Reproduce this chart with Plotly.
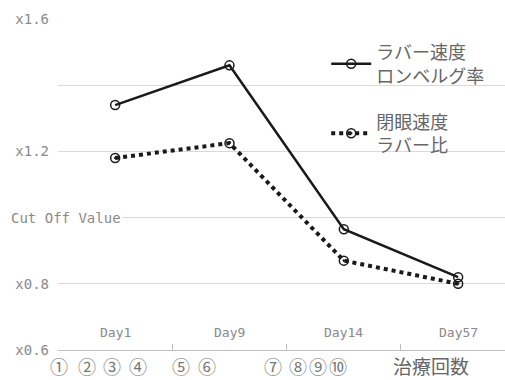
import plotly.graph_objects as go

days = ["Day1", "Day9", "Day14", "Day57"]
x_pos = [0, 1, 2, 3]
romberg = [1.34, 1.46, 0.965, 0.82]
closed_ratio = [1.18, 1.225, 0.87, 0.80]
series_names = ["ラバー速度<br>ロンベルグ率", "閉眼速度<br>ラバー比"]
y_tickvals = [1.6, 1.4, 1.2, 1.0, 0.8, 0.6]
y_ticktext = ["x1.6", "", "x1.2", "", "x0.8", "x0.6"]
cutoff_label = "Cut Off Value"
session_marks = ["①", "②", "③", "④", "⑤", "⑥", "⑦", "⑧", "⑨", "⑩"]
session_px = [59, 87, 112, 138, 181, 207, 273, 298, 318, 338]
axis_title = "治療回数"

FONT = "Noto Sans CJK JP, DejaVu Sans, sans-serif"
MONO = "DejaVu Sans Mono, Liberation Mono, monospace"
PL, PW = 58, 447

fig = go.Figure()
fig.add_trace(go.Scatter(
    x=x_pos, y=romberg, mode="lines+markers", name=series_names[0],
    line=dict(color="#1a1a1a", width=2.5),
    marker=dict(symbol="circle-open", size=9, color="#1a1a1a", line=dict(width=1.5)),
    legend="legend", showlegend=True,
))
fig.add_trace(go.Scatter(
    x=x_pos, y=closed_ratio, mode="lines+markers", name=series_names[1],
    line=dict(color="#1a1a1a", width=4, dash="dot"),
    marker=dict(symbol="circle-open-dot", size=9, color="#1a1a1a", line=dict(width=1.5)),
    legend="legend2", showlegend=True,
))

annotations = []
for xi, d in zip(x_pos, days):
    annotations.append(dict(x=xi, y=0.6, xref="x", yref="y", text=d, showarrow=False,
                            yanchor="bottom", yshift=8,
                            font=dict(family=MONO, size=13, color="#8a8a8a")))
annotations.append(dict(x=0, y=1.0, xref="paper", yref="y", text=cutoff_label, showarrow=False,
                        xanchor="left", xshift=-49, bgcolor="white",
                        font=dict(family=MONO, size=14, color="#8a8a8a")))
for txt, px in zip(session_marks, session_px):
    annotations.append(dict(x=(px - PL) / PW, y=0, xref="paper", yref="paper", text=txt,
                            showarrow=False, xanchor="center", yanchor="middle", yshift=-16,
                            borderpad=0,
                            font=dict(family=FONT, size=18, color="#777777")))
annotations.append(dict(x=(392 - PL) / PW, y=0, xref="paper", yref="paper", text=axis_title,
                        showarrow=False, xanchor="left", yanchor="middle", yshift=-15,
                        borderpad=0,
                        font=dict(family=FONT, size=19, color="#666666")))

fig.update_layout(
    width=505, height=380,
    margin=dict(l=PL, r=0, t=19, b=30),
    paper_bgcolor="white", plot_bgcolor="white",
    font=dict(family=FONT, color="#777777"),
    xaxis=dict(range=[-0.5, 3.41], tickvals=[-0.5, 0.5, 1.5, 2.5], ticks="inside", ticklen=6,
               tickcolor="#bfbfbf", showticklabels=False, showgrid=False, zeroline=False,
               showline=True, linecolor="#bfbfbf", linewidth=1),
    yaxis=dict(range=[0.6, 1.6], tickvals=y_tickvals, ticktext=y_ticktext, showgrid=True,
               gridcolor="#d9d9d9", gridwidth=1, zeroline=False, showline=False, ticks="",
               ticklabelstandoff=8,
               tickfont=dict(family=MONO, size=14, color="#8a8a8a")),
    legend=dict(x=0.6, y=0.955, xanchor="left", yanchor="top", bgcolor="rgba(0,0,0,0)",
                font=dict(family=FONT, size=18, color="#666666"), itemwidth=40),
    legend2=dict(x=0.6, y=0.745, xanchor="left", yanchor="top", bgcolor="rgba(0,0,0,0)",
                 font=dict(family=FONT, size=18, color="#666666"), itemwidth=40),
    annotations=annotations,
)

fig.write_html("out.html")
